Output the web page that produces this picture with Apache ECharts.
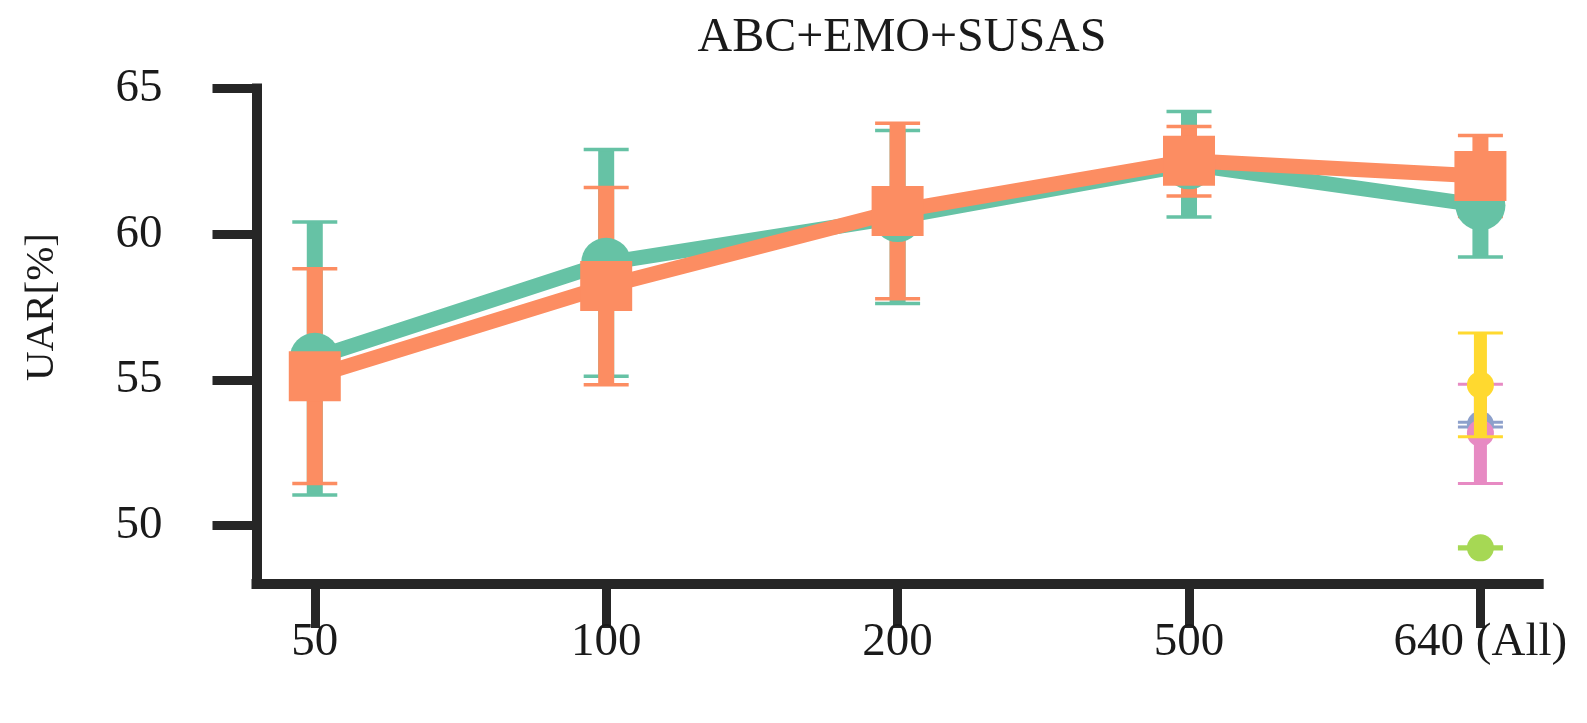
<!DOCTYPE html>
<html>
<head>
<meta charset="utf-8">
<script src="https://cdn.jsdelivr.net/npm/echarts@6/dist/echarts.min.js"></script>
<style>html,body{margin:0;padding:0;background:#fff}#c{width:1587px;height:723px}</style>
</head>
<body>
<div id="c"></div>
<script>
// ---- data ----
const categories = ['50', '100', '200', '500', '640 (All)'];
const yTicks = [50, 55, 60, 65];

// main series (teal circles)
const tealMean = [55.76, 59.02, 60.59, 62.40, 60.99];
const tealLow  = [51.05, 55.13, 57.62, 60.59, 59.22];
const tealHigh = [60.42, 62.91, 63.56, 64.21, 62.76];

// main series (orange squares)
const orangeMean = [55.13, 58.22, 60.80, 62.52, 62.00];
const orangeLow  = [51.45, 54.84, 57.79, 61.31, 60.61];
const orangeHigh = [58.82, 61.60, 63.81, 63.70, 63.39];

// single points at 640 (All)
const yellowPt = {mean: 54.83, low: 53.05, high: 56.61};
const bluePt   = {mean: 53.47, low: 53.39, high: 53.55};
const pinkPt   = {mean: 53.17, low: 51.45, high: 54.85};
const limePt   = {mean: 49.24, low: 49.20, high: 49.28};
const lastIdx = 4;

// ---- styles ----
const C = {teal:'#66c2a5', orange:'#fc8d62', blue:'#8da0cb', pink:'#e78ac3', lime:'#a6d854', yellow:'#ffd92f'};
const axisColor = '#262626';
const font = 'Liberation Serif';

function errSeries(name, color, items, barW, capW, capT, z) {
  return {
    type: 'custom', name: name, z: z,
    data: items,
    renderItem: function (params, api) {
      const x = api.value(0), lo = api.value(1), hi = api.value(2);
      const pH = api.coord([x, hi]), pL = api.coord([x, lo]);
      return {
        type: 'group',
        children: [
          {type: 'rect', shape: {x: pH[0] - barW / 2, y: pH[1], width: barW, height: pL[1] - pH[1]}, style: {fill: color}},
          {type: 'rect', shape: {x: pH[0] - capW / 2, y: pH[1] - capT / 2, width: capW, height: capT}, style: {fill: color}},
          {type: 'rect', shape: {x: pL[0] - capW / 2, y: pL[1] - capT / 2, width: capW, height: capT}, style: {fill: color}}
        ]
      };
    }
  };
}

const tealErr = tealLow.map((v, i) => [i, v, tealHigh[i]]);
const orangeErr = orangeLow.map((v, i) => [i, v, orangeHigh[i]]);

function pointSeries(color, pt, z) {
  return [
    errSeries('', color, [[lastIdx, pt.low, pt.high]], 13, 45, 3, z),
    {type: 'scatter', z: z + 0.5, symbol: 'circle', symbolSize: 27, itemStyle: {color: color, opacity: 1},
     data: [[lastIdx, pt.mean]], silent: true}
  ];
}

const chart = echarts.init(document.getElementById('c'), null, {renderer: 'canvas'});
chart.setOption({
  animation: false,
  backgroundColor: '#ffffff',
  title: {
    text: 'ABC+EMO+SUSAS', left: 897, top: 9, textAlign: 'center',
    textStyle: {fontFamily: font, fontSize: 48, fontWeight: 'normal', color: '#1a1a1a'}
  },
  graphic: [{
    type: 'text', x: 42, y: 307, rotation: Math.PI / 2,
    style: {text: 'UAR[%]', fontFamily: font, fontSize: 41, fill: '#1a1a1a', align: 'center', verticalAlign: 'middle'}
  }],
  grid: {left: 256.5, right: 48.3, top: 88.5, bottom: 139, containLabel: false},
  xAxis: {
    type: 'value', min: -0.2, max: 4.2,
    splitLine: {show: false},
    axisLine: {show: true, onZero: false, lineStyle: {color: axisColor, width: 10, cap: 'square'}},
    axisTick: {show: true, customValues: [0, 1, 2, 3, 4], length: 44, lineStyle: {color: axisColor, width: 9}},
    axisLabel: {customValues: [0, 1, 2, 3, 4], margin: 35, fontFamily: font, fontSize: 47, color: '#1a1a1a',
      formatter: function (v) { return categories[Math.round(v)]; }}
  },
  yAxis: {
    type: 'value', min: 48, max: 65,
    splitLine: {show: false},
    axisLine: {show: true, onZero: false, lineStyle: {color: axisColor, width: 10, cap: 'square'}},
    axisTick: {show: true, customValues: yTicks, length: 44, lineStyle: {color: axisColor, width: 9}},
    axisLabel: {customValues: yTicks, margin: 94, fontFamily: font, fontSize: 47, color: '#1a1a1a'}
  },
  series: [
    errSeries('tealErr', C.teal, tealErr, 16, 45, 3.5, 1),
    errSeries('orangeErr', C.orange, orangeErr, 16, 45, 3.5, 2),
    {type: 'line', name: 'teal', z: 3, data: tealMean.map((v, i) => [i, v]),
     symbol: 'circle', symbolSize: 50, showSymbol: true,
     lineStyle: {color: C.teal, width: 15}, itemStyle: {color: C.teal, opacity: 1}},
    {type: 'line', name: 'orange', z: 4, data: orangeMean.map((v, i) => [i, v]),
     symbol: 'rect', symbolSize: [52, 50], showSymbol: true,
     lineStyle: {color: C.orange, width: 15}, itemStyle: {color: C.orange, opacity: 1}},
    ...pointSeries(C.lime, limePt, 5),
    ...pointSeries(C.blue, bluePt, 6),
    ...pointSeries(C.pink, pinkPt, 7),
    ...pointSeries(C.yellow, yellowPt, 8)
  ]
});
</script>
</body>
</html>
